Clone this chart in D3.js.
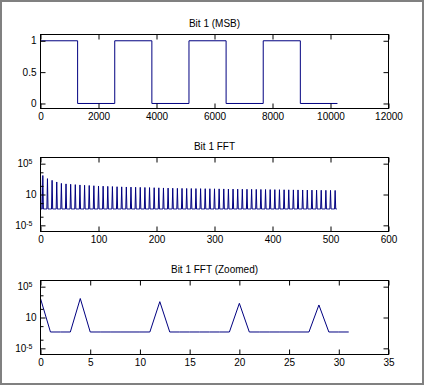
<!DOCTYPE html>
<html>
<head>
<meta charset="utf-8">
<script src="https://cdn.jsdelivr.net/npm/d3@7"></script>
<style>
	body { margin: 0; background: #fff; }
	svg { display: block; font-family: "Liberation Sans", Arial, sans-serif; }
</style>
</head>
<body>
<div id="chart"></div>
<script>
// bit 1 waveform: level starting at each sample index
const bitTimes = [0, 1280, 2560, 3840, 5120, 6400, 7680, 8960, 10240];
const bitLevels = [1, 0, 1, 0, 1, 0, 1, 0, 0];

// FFT magnitude (log10), 512 bins: floor everywhere except the peaks
const fftLength = 512;
const fftFloorLog = -2.35;
const fftPeakBins = [0, 4, 12, 20, 28, 36, 44, 52, 60, 68, 76, 84, 92, 100, 108, 116, 124, 132, 140, 148,
	156, 164, 172, 180, 188, 196, 204, 212, 220, 228, 236, 244, 252, 260, 268, 276, 284, 292, 300, 308,
	316, 324, 332, 340, 348, 356, 364, 372, 380, 388, 396, 404, 412, 420, 428, 436, 444, 452, 460, 468,
	476, 484, 492, 500, 508];
const fftPeakLog = [3.08, 3.08, 2.57, 2.3, 2.03, 1.8, 1.72, 1.66, 1.6, 1.55, 1.5, 1.46, 1.42, 1.38, 1.35, 1.32, 1.29, 1.26, 1.24, 1.22,
	1.2, 1.18, 1.16, 1.14, 1.12, 1.1, 1.08, 1.06, 1.04, 1.02, 1.0, 0.99, 0.98, 0.97, 0.96, 0.95, 0.94, 0.93, 0.92, 0.91,
	0.9, 0.89, 0.88, 0.87, 0.86, 0.85, 0.84, 0.83, 0.82, 0.81, 0.8, 0.79, 0.78, 0.77, 0.76, 0.75, 0.74, 0.73, 0.72, 0.71,
	0.7, 0.69, 0.68, 0.67, 0.66];
const zoomLength = 32;

const titles = ["Bit 1 (MSB)", "Bit 1 FFT", "Bit 1 FFT (Zoomed)"];
const waveXTicks = [0, 2000, 4000, 6000, 8000, 10000, 12000];
const waveYTicks = [0, 0.5, 1];
const fftXTicks = [0, 100, 200, 300, 400, 500, 600];
const zoomXTicks = [0, 5, 10, 15, 20, 25, 30, 35];
const logTicks = [1e-5, 1, 1e5];
const logTickExp = ["-5", "", "5"];
const logMinorTicks = [Math.pow(10, -3.6), Math.pow(10, -1.4), Math.pow(10, 1.4), Math.pow(10, 3.6)];

const width = 424;
const height = 385;
const left = 40.5;
const right = 388.5;
const panelH = 74;
const lineColor = "#000080";

const fftValues = d3.range(fftLength).map(() => Math.pow(10, fftFloorLog));
fftPeakBins.forEach((b, i) => (fftValues[b] = Math.pow(10, fftPeakLog[i])));
const fftData = fftValues.map((v, i) => ({ x: i, y: v }));
const zoomData = fftData.slice(0, zoomLength);
const waveData = bitTimes.map((t, i) => ({ x: t, y: bitLevels[i] }));

const svg = d3
	.select("#chart")
	.append("svg")
	.attr("width", width)
	.attr("height", height);

svg.append("rect")
	.attr("x", 1)
	.attr("y", 1)
	.attr("width", width - 2)
	.attr("height", height - 2)
	.attr("fill", "#fff")
	.attr("stroke", "#808080")
	.attr("stroke-width", 2);

function styleAxis(g) {
	g.select(".domain").remove();
	g.attr("font-family", null).attr("font-size", 10);
	g.selectAll(".tick line").attr("stroke", "#000");
	g.selectAll(".tick text").attr("fill", "#000");
}

function drawPanel(top, title, x, y, xTicks, curve, data, yAxisFn) {
	const bottom = top + panelH;

	svg.append("text")
		.attr("x", (left + right) / 2)
		.attr("y", top - 8)
		.attr("text-anchor", "middle")
		.style("font-size", "10px")
		.text(title);

	const line = d3
		.line()
		.x((d) => x(d.x))
		.y((d) => y(d.y))
		.curve(curve);

	svg.append("path")
		.datum(data)
		.attr("d", line)
		.attr("fill", "none")
		.attr("stroke", lineColor)
		.attr("stroke-width", 1);

	svg.append("g")
		.attr("transform", `translate(0,${bottom})`)
		.call(d3.axisBottom(x).tickValues(xTicks).tickSize(-5).tickSizeOuter(0).tickPadding(4).tickFormat((d) => String(d)))
		.call(styleAxis);

	svg.append("g")
		.attr("transform", `translate(0,${top})`)
		.call(d3.axisTop(x).tickValues(xTicks).tickSize(-5).tickSizeOuter(0).tickFormat(""))
		.call(styleAxis);

	yAxisFn(top);

	svg.append("rect")
		.attr("x", left)
		.attr("y", top)
		.attr("width", right - left)
		.attr("height", panelH)
		.attr("fill", "none")
		.attr("stroke", "#000")
		.attr("stroke-width", 1);
}

function linearYAxis(y) {
	return function () {
		svg.append("g")
			.attr("transform", `translate(${left},0)`)
			.call(d3.axisLeft(y).tickValues(waveYTicks).tickSize(-5).tickSizeOuter(0).tickPadding(4).tickFormat((d) => String(d)))
			.call(styleAxis);
		svg.append("g")
			.attr("transform", `translate(${right},0)`)
			.call(d3.axisRight(y).tickValues(waveYTicks).tickSize(-5).tickSizeOuter(0).tickFormat(""))
			.call(styleAxis);
	};
}

function logYAxis(y) {
	return function () {
		const g = svg.append("g")
			.attr("transform", `translate(${left},0)`)
			.call(d3.axisLeft(y).tickValues(logTicks).tickSize(-5).tickSizeOuter(0).tickPadding(4).tickFormat(() => "10"))
			.call(styleAxis);
		g.selectAll(".tick text").each(function (d, i) {
			const exp = logTickExp[i];
			if (!exp) return;
			const t = d3.select(this).attr("x", -8);
			t.append("tspan").attr("dy", "-0.45em").style("font-size", "7px").text(exp);
		});
		svg.append("g")
			.attr("transform", `translate(${left},0)`)
			.call(d3.axisLeft(y).tickValues(logMinorTicks).tickSize(-3).tickSizeOuter(0).tickFormat(""))
			.call(styleAxis);
		svg.append("g")
			.attr("transform", `translate(${right},0)`)
			.call(d3.axisRight(y).tickValues(logTicks).tickSize(-5).tickSizeOuter(0).tickFormat(""))
			.call(styleAxis);
	};
}

// panel 1: waveform
const top1 = 34.5;
const x1 = d3.scaleLinear().domain([0, 12000]).range([left, right]);
const y1 = d3.scaleLinear().domain([-0.08, 1.1]).range([top1 + panelH, top1]);
drawPanel(top1, titles[0], x1, y1, waveXTicks, d3.curveStepAfter, waveData, linearYAxis(y1));

// panel 2: full FFT
const top2 = 157.5;
const x2 = d3.scaleLinear().domain([0, 600]).range([left, right]);
const y2 = d3.scaleLog().domain([1e-6, 1e6]).range([top2 + panelH, top2]);
drawPanel(top2, titles[1], x2, y2, fftXTicks, d3.curveLinear, fftData, logYAxis(y2));

// panel 3: zoomed FFT
const top3 = 280.5;
const x3 = d3.scaleLinear().domain([0, 35]).range([left, right]);
const y3 = d3.scaleLog().domain([1e-6, 1e6]).range([top3 + panelH, top3]);
drawPanel(top3, titles[2], x3, y3, zoomXTicks, d3.curveLinear, zoomData, logYAxis(y3));
</script>
</body>
</html>
